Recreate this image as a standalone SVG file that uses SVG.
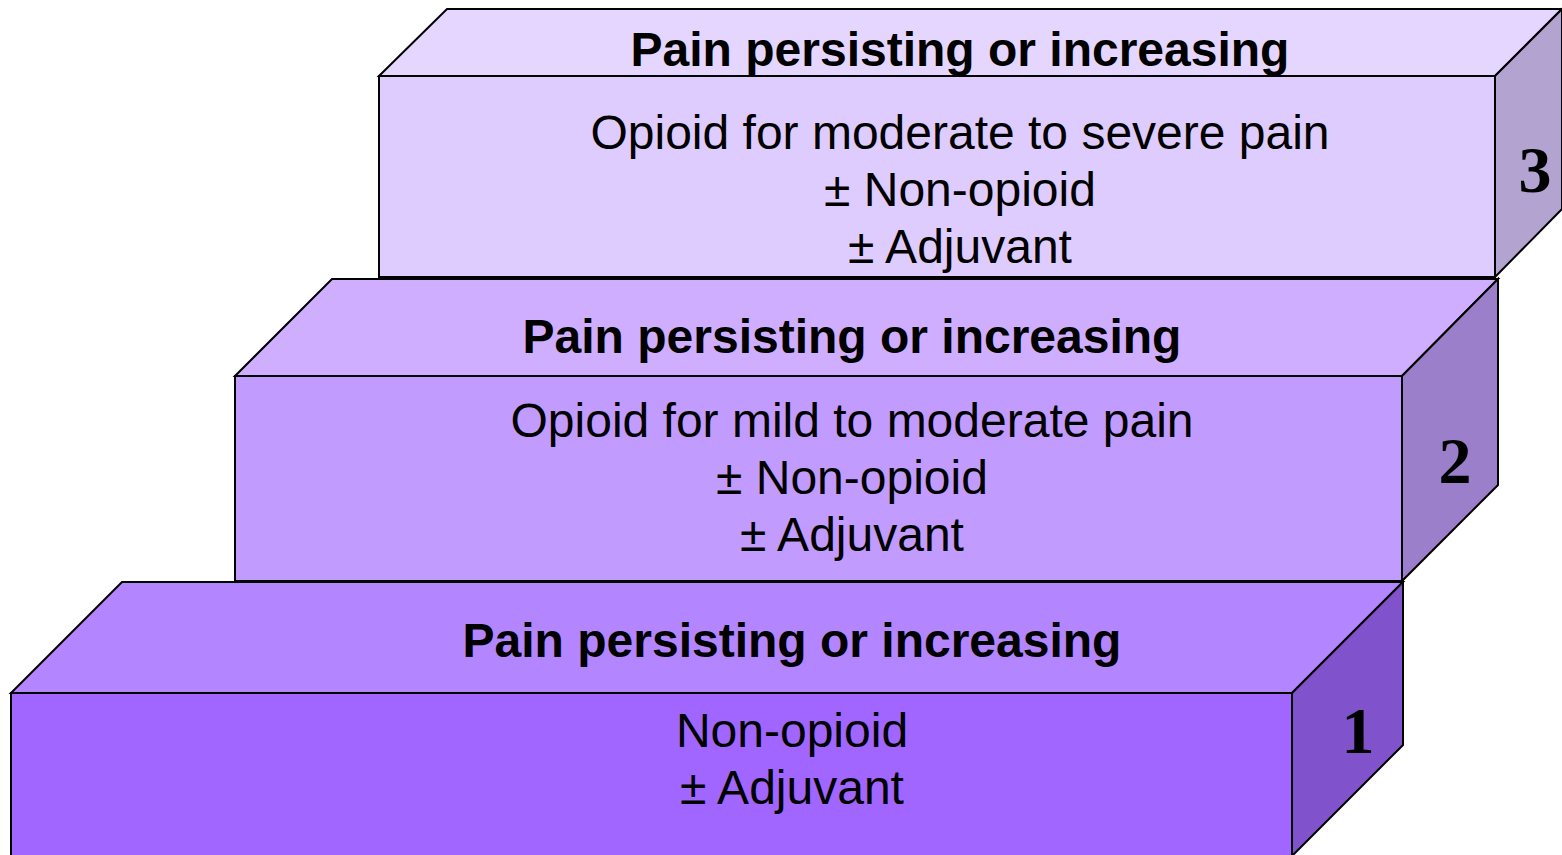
<svg xmlns="http://www.w3.org/2000/svg" width="1562" height="855" viewBox="0 0 1562 855">
<style>
.f{stroke:#000;stroke-width:2;stroke-linejoin:miter}
.t{font-family:"Liberation Sans",Arial,sans-serif;font-weight:bold;font-size:48px;text-anchor:middle;fill:#000}
.b{font-family:"Liberation Sans",Arial,sans-serif;font-size:48px;text-anchor:middle;fill:#000}
.n{font-family:"Liberation Serif","Times New Roman",serif;font-weight:bold;font-size:66px;text-anchor:middle;fill:#000}
</style>
<rect width="1562" height="855" fill="#fff"/>
<g id="step3">
<polygon class="f" fill="#E5D6FF" points="379,76 447,9 1562,9 1495,76"/>
<rect class="f" fill="#DFCCFF" x="379" y="76" width="1116" height="201"/>
<polygon class="f" fill="#B3A3D1" points="1495,76 1562,9 1562,209 1495,277"/>
<text class="t" x="960" y="66">Pain persisting or increasing</text>
<text class="b" x="960" y="149">Opioid for moderate to severe pain</text>
<text class="b" x="960" y="206">± Non-opioid</text>
<text class="b" x="960" y="263">± Adjuvant</text>
<text class="n" x="1535" y="192">3</text>
</g>
<g id="step2">
<polygon class="f" fill="#CFAEFF" points="235,376 332,279 1498,279 1402,376"/>
<rect class="f" fill="#C29BFF" x="235" y="376" width="1167" height="205"/>
<polygon class="f" fill="#9B7FCB" points="1402,376 1498,279 1498,485 1402,581"/>
<text class="t" x="852" y="353">Pain persisting or increasing</text>
<text class="b" x="852" y="437">Opioid for mild to moderate pain</text>
<text class="b" x="852" y="494">± Non-opioid</text>
<text class="b" x="852" y="551">± Adjuvant</text>
<text class="n" x="1455" y="483">2</text>
</g>
<g id="step1">
<polygon class="f" fill="#B385FF" points="11,693 122,582 1403,582 1292,693"/>
<rect class="f" fill="#A066FF" x="11" y="693" width="1281" height="170"/>
<polygon class="f" fill="#8052CC" points="1292,693 1403,582 1403,745 1292,856"/>
<text class="t" x="792" y="657">Pain persisting or increasing</text>
<text class="b" x="792" y="747">Non-opioid</text>
<text class="b" x="792" y="804">± Adjuvant</text>
<text class="n" x="1358" y="753">1</text>
</g>
<g id="connectors"/>
</svg>
